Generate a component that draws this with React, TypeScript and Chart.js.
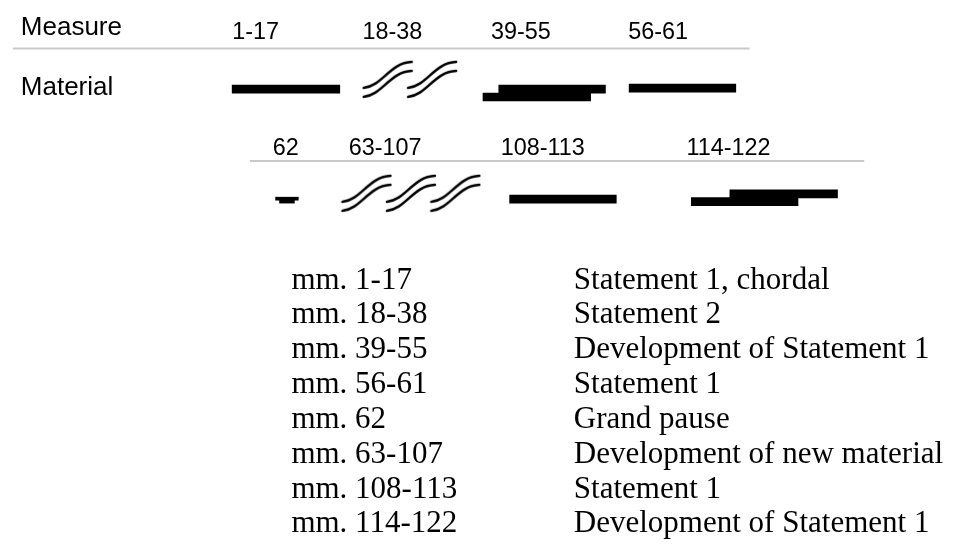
import React, { useEffect, useRef } from "react";
import { Chart, registerables } from "chart.js";

Chart.register(...registerables);

// ---- Row headings ----
const headerLabels = ["Measure", "Material"];
const headerX = [15, 15];
const headerBaseline = [30, 91];

// ---- Measure labels (two systems) ----
const measureLabelsTop = ["1-17", "18-38", "39-55", "56-61"];
const measureTopX = [229, 361, 491, 630];
const measureTopBaseline = 34;
const measureLabelsBottom = ["62", "63-107", "108-113", "114-122"];
const measureBottomX = [270, 347, 501, 689];
const measureBottomBaseline = 152;

// ---- Rule lines under the measure labels ----
const ruleStart = [7, 247];
const ruleEnd = [753, 869];
const ruleY = [43.5, 158.5];

// ---- Solid material bars (thick) ----
const thickBarStart = [229, 499, 483, 631, 510, 733, 694];
const thickBarEnd = [338, 607, 592, 739, 618, 842, 802];
const thickBarRow = [85, 85, 93, 84, 197.5, 192, 200];

// ---- Grand pause mark (thin bars) ----
const thinBarStart = [273, 277];
const thinBarEnd = [296, 292];
const thinBarRow = [197, 200];

// ---- Wavy "new material" glyph positions ----
const waveX = [386.5, 431.5, 365, 410, 455];
const waveY = [75.5, 75.5, 192, 192, 192];

// ---- Key table ----
const keyMeasures = [
  "mm. 1-17",
  "mm. 18-38",
  "mm. 39-55",
  "mm. 56-61",
  "mm. 62",
  "mm. 63-107",
  "mm. 108-113",
  "mm. 114-122",
];
const keyDescriptions = [
  "Statement 1, chordal",
  "Statement 2",
  "Development of Statement 1",
  "Statement 1",
  "Grand pause",
  "Development of new material",
  "Statement 1",
  "Development of Statement 1",
];
const keyCol1X = 289;
const keyCol2X = 575;
const keyFirstBaseline = 289;
const keyRowStep = 35.6;

function makeWaveGlyph(): HTMLCanvasElement {
  const c = document.createElement("canvas");
  c.width = 52;
  c.height = 40;
  const g = c.getContext("2d")!;
  g.strokeStyle = "#000";
  g.lineWidth = 2.5;
  g.lineCap = "round";
  const curve = (o: number) => {
    g.beginPath();
    g.moveTo(2, 28 + o);
    g.bezierCurveTo(21, 26 + o, 28, 3 + o, 50, 2 + o);
    g.stroke();
  };
  curve(0);
  curve(9);
  return c;
}

const textPlugin = {
  id: "formText",
  afterDatasetsDraw(chart: any) {
    const { ctx } = chart;
    const x = chart.scales.x;
    const y = chart.scales.y;
    ctx.save();
    ctx.fillStyle = "#000";
    ctx.textAlign = "left";
    ctx.textBaseline = "alphabetic";

    ctx.font = '26px "Liberation Sans", Arial, Helvetica, sans-serif';
    headerLabels.forEach((t, i) => {
      ctx.fillText(t, x.getPixelForValue(headerX[i]), y.getPixelForValue(headerBaseline[i]));
    });

    ctx.font = '23.4px "Liberation Sans", Arial, Helvetica, sans-serif';
    measureLabelsTop.forEach((t, i) => {
      ctx.fillText(t, x.getPixelForValue(measureTopX[i]), y.getPixelForValue(measureTopBaseline));
    });
    measureLabelsBottom.forEach((t, i) => {
      ctx.fillText(t, x.getPixelForValue(measureBottomX[i]), y.getPixelForValue(measureBottomBaseline));
    });

    ctx.font = '31px "Liberation Serif", "Times New Roman", Times, serif';
    keyMeasures.forEach((t, i) => {
      const by = y.getPixelForValue(keyFirstBaseline + i * keyRowStep);
      ctx.fillText(t, x.getPixelForValue(keyCol1X), by);
      ctx.fillText(keyDescriptions[i], x.getPixelForValue(keyCol2X), by);
    });
    ctx.restore();
  },
};

export default function App() {
  const canvasRef = useRef<HTMLCanvasElement | null>(null);

  useEffect(() => {
    if (!canvasRef.current) return;
    const glyph = makeWaveGlyph();

    const ruleDatasets = ruleStart.map((s, i) => ({
      type: "line" as const,
      data: [
        { x: s, y: ruleY[i] },
        { x: ruleEnd[i], y: ruleY[i] },
      ],
      borderColor: "#c9c9c9",
      borderWidth: 2,
      pointRadius: 0,
      fill: false,
      xAxisID: "x",
      yAxisID: "y",
    }));

    const chart = new Chart(canvasRef.current, {
      type: "bar",
      data: {
        datasets: [
          {
            type: "bar",
            indexAxis: "y",
            data: thickBarStart.map((s, i) => ({ x: [s, thickBarEnd[i]], y: thickBarRow[i] })),
            backgroundColor: "#000",
            borderWidth: 0,
            barThickness: 8,
            grouped: false,
            xAxisID: "x",
            yAxisID: "y",
          } as any,
          {
            type: "bar",
            indexAxis: "y",
            data: thinBarStart.map((s, i) => ({ x: [s, thinBarEnd[i]], y: thinBarRow[i] })),
            backgroundColor: "#000",
            borderWidth: 0,
            barThickness: 3,
            grouped: false,
            xAxisID: "x",
            yAxisID: "y",
          } as any,
          ...ruleDatasets,
          {
            type: "scatter",
            data: waveX.map((wx, i) => ({ x: wx, y: waveY[i] })),
            pointStyle: glyph,
            pointRadius: 5,
            showLine: false,
            xAxisID: "x",
            yAxisID: "y",
          } as any,
        ],
      },
      options: {
        animation: false,
        responsive: true,
        maintainAspectRatio: false,
        events: [],
        layout: { padding: 0 },
        scales: {
          x: { type: "linear", min: 0, max: 963, display: false, offset: false },
          y: { type: "linear", min: 0, max: 548, reverse: true, display: false, offset: false },
        },
        plugins: {
          legend: { display: false },
          tooltip: { enabled: false },
        },
      },
      plugins: [textPlugin],
    } as any);

    return () => chart.destroy();
  }, []);

  return (
    <div
      style={{
        position: "fixed",
        left: 0,
        top: 0,
        width: 963,
        height: 548,
        background: "#fff",
      }}
    >
      <canvas ref={canvasRef} />
    </div>
  );
}
